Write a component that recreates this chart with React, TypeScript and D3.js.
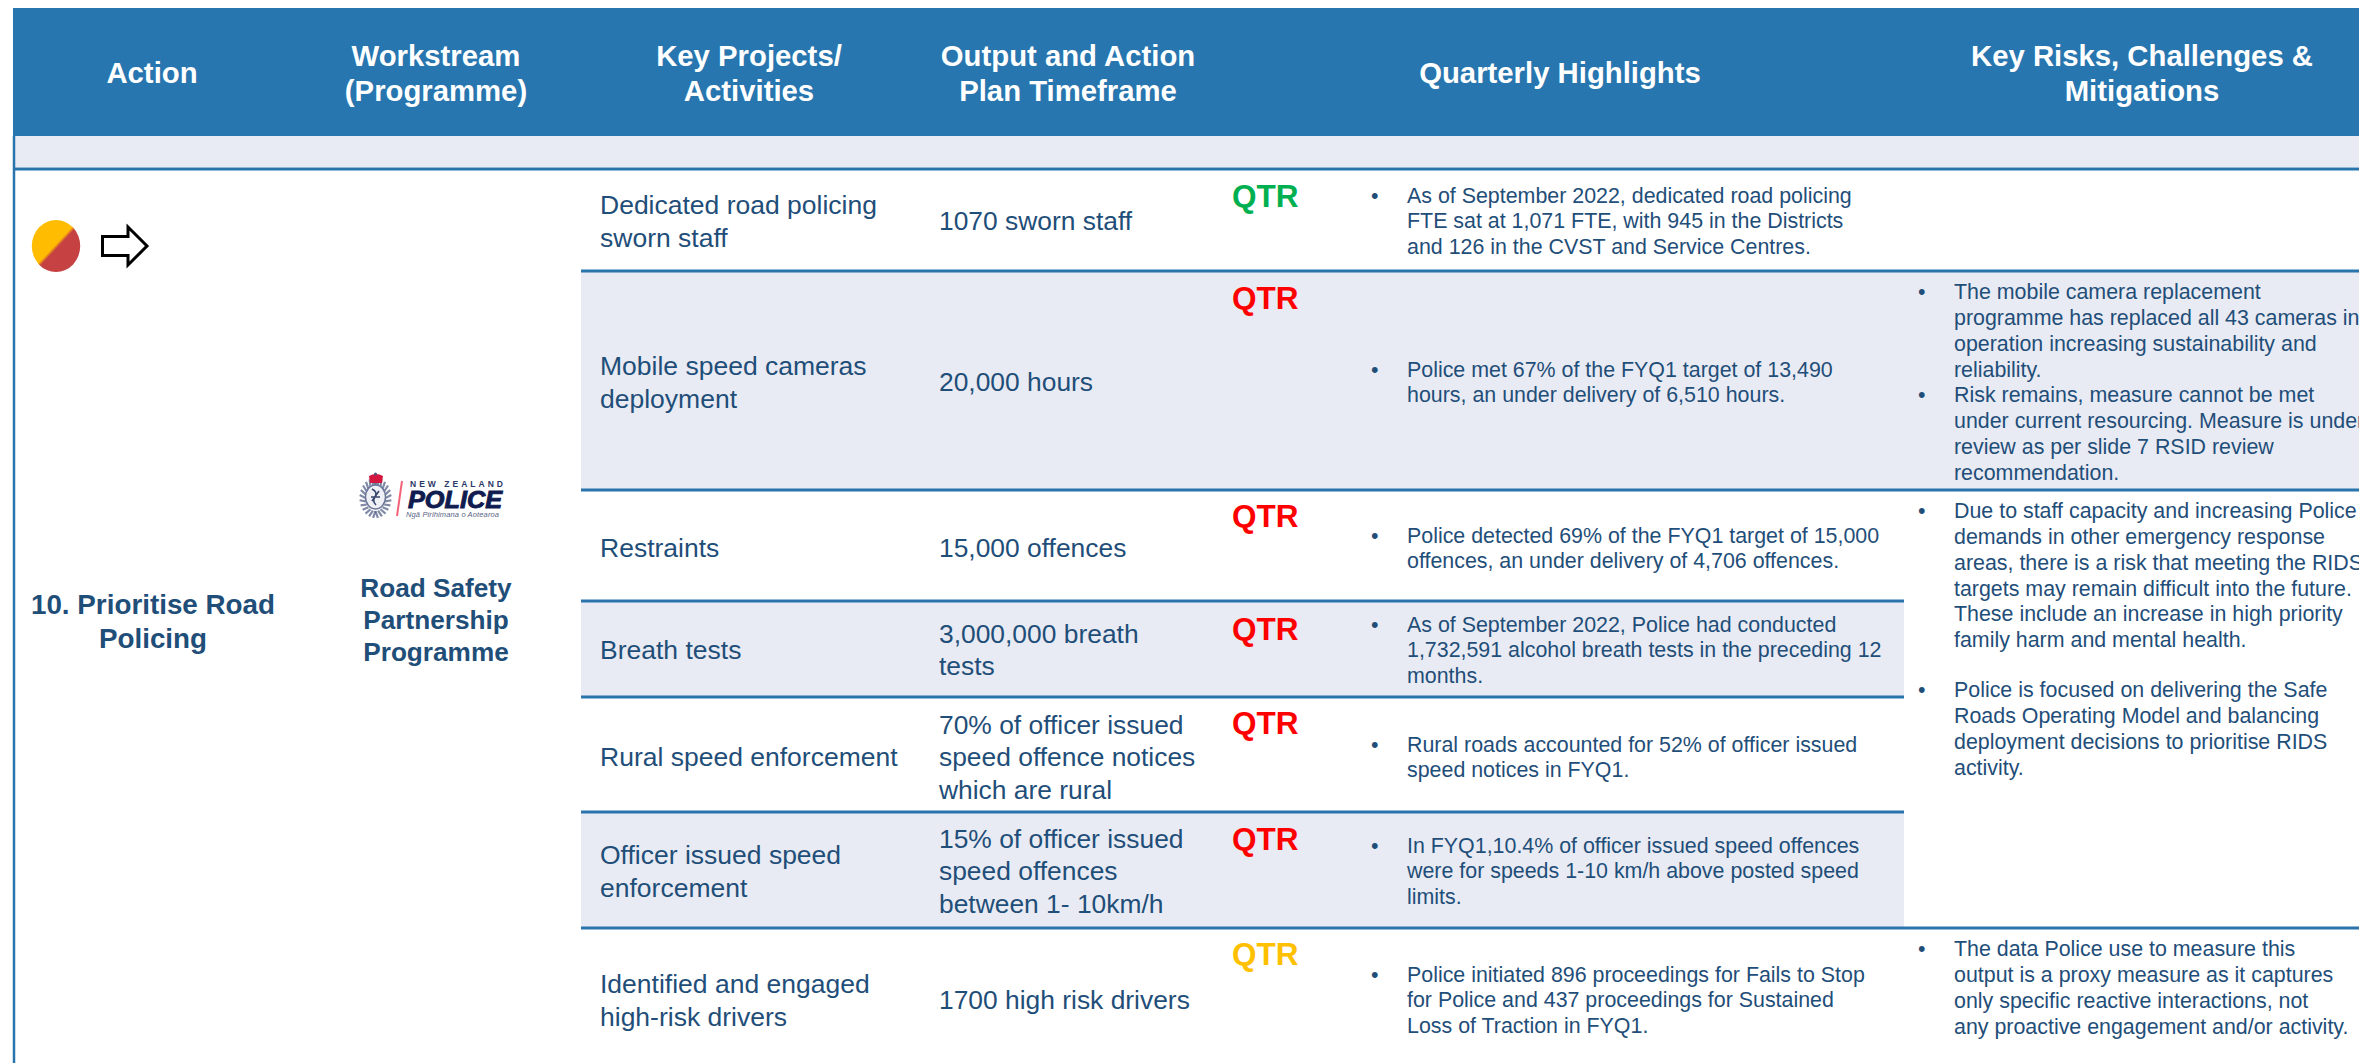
import React from 'react';
import * as d3 from 'd3';

const WIDTH = 2359, HEIGHT = 1063;
const BLUE = '#2776af', LINE = '#2a74ad', BAND = '#e8ebf3', INK = '#1f4e79';
const FONT = '"Liberation Sans", Arial, sans-serif';

const headers = [
  ['Action'],
  ['Workstream', '(Programme)'],
  ['Key Projects/', 'Activities'],
  ['Output and Action', 'Plan Timeframe'],
  ['Quarterly Highlights'],
  ['Key Risks, Challenges &', 'Mitigations'],
];

const rows = ['r1', 'r2', 'r3', 'r4', 'r5', 'r6', 'r7'];

const projects = [
  ['Dedicated road policing', 'sworn staff'],
  ['Mobile speed cameras', 'deployment'],
  ['Restraints'],
  ['Breath tests'],
  ['Rural speed enforcement'],
  ['Officer issued speed', 'enforcement'],
  ['Identified and engaged', 'high-risk drivers'],
];

const outputs = [
  ['1070 sworn staff'],
  ['20,000 hours'],
  ['15,000 offences'],
  ['3,000,000 breath', 'tests'],
  ['70% of officer issued', 'speed offence notices', 'which are rural'],
  ['15% of officer issued', 'speed offences', 'between 1- 10km/h'],
  ['1700 high risk drivers'],
];

const statuses = ['green', 'red', 'red', 'red', 'red', 'red', 'amber'];

const highlights = [
  ['As of September 2022, dedicated road policing', 'FTE sat at 1,071 FTE, with 945 in the Districts', 'and 126 in the CVST and Service Centres.'],
  ['Police met 67% of the FYQ1 target of 13,490', 'hours, an under delivery of 6,510 hours.'],
  ['Police detected 69% of the FYQ1 target of 15,000', 'offences, an under delivery of 4,706 offences.'],
  ['As of September 2022, Police had conducted', '1,732,591 alcohol breath tests in the preceding 12', 'months.'],
  ['Rural roads accounted for 52% of officer issued', 'speed notices in FYQ1.'],
  ['In FYQ1,10.4% of officer issued speed offences', 'were for speeds 1-10 km/h above posted speed', 'limits.'],
  ['Police initiated 896 proceedings for Fails to Stop', 'for Police and 437 proceedings for Sustained', 'Loss of Traction in FYQ1.'],
];

const risks = [
  ['The mobile camera replacement', 'programme has replaced all 43 cameras in', 'operation increasing sustainability and', 'reliability.'],
  ['Risk remains, measure cannot be met', 'under current resourcing. Measure is under', 'review as per slide 7 RSID review', 'recommendation.'],
  ['Due to staff capacity and increasing Police', 'demands in other emergency response', 'areas, there is a risk that meeting the RIDS', 'targets may remain difficult into the future.', 'These include an increase in high priority', 'family harm and mental health.'],
  ['Police is focused on delivering the Safe', 'Roads Operating Model and balancing', 'deployment decisions to prioritise RIDS', 'activity.'],
  ['The data Police use to measure this', 'output is a proxy measure as it captures', 'only specific reactive interactions, not', 'any proactive engagement and/or activity.'],
];

// layout, measured off the slide
const headerX = d3.scaleOrdinal<number, number>().domain(d3.range(6)).range([152, 436, 749, 1068, 1560, 2142]);
const rowTop = d3.scaleOrdinal<string, number>().domain(rows).range([169, 271, 490, 601, 697, 812, 928]);
const rowMid = d3.scaleOrdinal<string, number>().domain(rows).range([221, 382, 548, 650, 757, 871, 1000]);
const qtrY = d3.scaleOrdinal<string, number>().domain(rows).range([196, 298, 516, 629, 723, 839, 954]);
const riskY = d3.scaleOrdinal<number, number>().domain(d3.range(5)).range([292, 395, 511, 690, 949]);
const statusColor = d3.scaleOrdinal<string, string>().domain(['green', 'red', 'amber']).range(['#00b050', '#ff0000', '#ffc000']);

const lineRule = (i: number) => (i === 0 ? 13 : 581);
const ruleEnd = (i: number) => ([3, 4, 5].includes(i) ? 1904 : WIDTH);
const bandEnd = (i: number) => (i === 1 ? WIDTH : 1904);

const Lines = ({ x, mid, lh, lines, ...rest }: any) => (
  <text {...rest}>
    {lines.map((t: string, i: number) => (
      <tspan key={i} x={x} y={mid + (i - (lines.length - 1) / 2) * lh} dy="0.35em">{t}</tspan>
    ))}
  </text>
);

const Logo = () => {
  const leaves = d3.range(-6, 7);
  return (
    <g>
      {leaves.map(i => {
        const a = (i * 15 * Math.PI) / 180;
        return [-1, 1].map(s => (
          <line key={`${i}${s}`} x1={375.5 + s * 10 * Math.cos(a)} y1={498 + 13 * Math.sin(a)}
            x2={375.5 + s * 16 * Math.cos(a - 0.15)} y2={498 + 20 * Math.sin(a - 0.15)} stroke="#56638a" strokeWidth={2.2} opacity={0.75} />
        ));
      })}
      <ellipse cx={375.5} cy={497} rx={10} ry={12} fill="#eef0f5" stroke="#6a7597" strokeWidth={1.4} />
      <path d="M372 489 q6 3 3 8 q-3 4 1 8 M379 491 l-7 10 M371 497 h9" fill="none" stroke="#39466e" strokeWidth={1.6} />
      <path d="M369 476 q7 -4 14 0 l-1 7 h-12 z" fill="#d5173f" />
      <circle cx={375.5} cy={474} r={1.5} fill="#47557f" />
      <line x1={402} y1={481} x2={397} y2={516} stroke="#f2647a" strokeWidth={2} />
      <text x={410} y={487} fontFamily={FONT} fontSize={8.5} fontWeight={700} textLength={93} fill="#2a3868">NEW ZEALAND</text>
      <text x={408} y={508} fontFamily={FONT} fontSize={23} fontWeight={700} fontStyle="italic" stroke="#101b50" strokeWidth={0.9} textLength={94} lengthAdjust="spacingAndGlyphs" fill="#101b50">POLICE</text>
      <text x={406} y={516.5} fontFamily={FONT} fontSize={7.5} fontStyle="italic" fill="#5a6485" textLength={93}>Ngā Pirihimana o Aotearoa</text>
    </g>
  );
};

export default function App() {
  return (
    <svg width={WIDTH} height={HEIGHT} style={{ position: 'absolute', left: 0, top: 0, display: 'block', background: '#fff' }} fontFamily={FONT}>
      <defs>
        <linearGradient id="rag" x1="0.2" y1="0.2" x2="0.8" y2="0.8">
          <stop offset="0.47" stopColor="#ffbc00" />
          <stop offset="0.55" stopColor="#c64141" />
        </linearGradient>
      </defs>

      <rect x={13} y={8} width={WIDTH} height={128} fill={BLUE} />
      <rect x={15} y={136} width={WIDTH} height={31} fill={BAND} />

      {rows.map((r, i) => i % 2 === 1 && (
        <rect key={r} x={581} y={rowTop(r)} width={bandEnd(i) - 581} height={(rowTop(rows[i + 1]) as number) - rowTop(r)} fill={BAND} />
      ))}
      {rows.map((r, i) => (
        <line key={r} x1={lineRule(i)} x2={ruleEnd(i)} y1={rowTop(r)} y2={rowTop(r)} stroke={LINE} strokeWidth={3} />
      ))}
      <line x1={14} x2={14} y1={136} y2={HEIGHT} stroke={LINE} strokeWidth={2.5} />

      {headers.map((h, i) => (
        <Lines key={i} x={headerX(i)} mid={73} lh={35} lines={h} fill="#fff" fontWeight={700} fontSize={29.3} textAnchor="middle" />
      ))}

      <ellipse cx={56} cy={246} rx={24.2} ry={26} fill="url(#rag)" />
      <path d="M102.5 236.5 H128 V227 L147 246 L128 265 V255.5 H102.5 Z" fill="#fff" stroke="#000" strokeWidth={3} />

      <Lines x={153} mid={621} lh={34} lines={['10. Prioritise Road', 'Policing']} fill={INK} fontWeight={700} fontSize={27.8} textAnchor="middle" />
      <Logo />
      <Lines x={436} mid={620} lh={32} lines={['Road Safety', 'Partnership', 'Programme']} fill={INK} fontWeight={700} fontSize={26.2} textAnchor="middle" />

      {rows.map((r, i) => (
        <g key={r}>
          <Lines x={600} mid={rowMid(r)} lh={32.5} lines={projects[i]} fill={INK} fontSize={26.5} />
          <Lines x={939} mid={rowMid(r)} lh={32.5} lines={outputs[i]} fill={INK} fontSize={26.4} />
          <text x={1232} y={qtrY(r)} dy="0.35em" fill={statusColor(statuses[i])} fontWeight={700} fontSize={31.5}>QTR</text>
          <text x={1371} y={rowMid(r) - (highlights[i].length - 1) * 12.8} dy="0.35em" fill={INK} fontSize={21.4}>•</text>
          <Lines x={1407} mid={rowMid(r)} lh={25.7} lines={highlights[i]} fill={INK} fontSize={21.4} />
        </g>
      ))}

      {risks.map((para, i) => (
        <g key={i}>
          <text x={1918} y={riskY(i)} dy="0.35em" fill={INK} fontSize={21.4}>•</text>
          <Lines x={1954} mid={riskY(i) + ((para.length - 1) * 25.7) / 2} lh={25.7} lines={para} fill={INK} fontSize={21.4} />
        </g>
      ))}
    </svg>
  );
}
